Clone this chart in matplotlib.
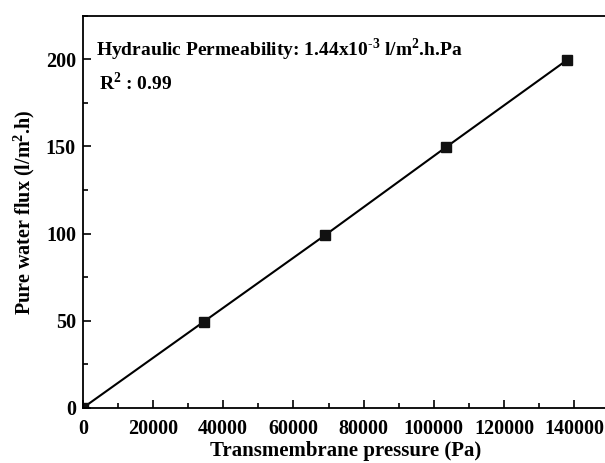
import matplotlib
matplotlib.use("Agg")
import matplotlib.pyplot as plt
from matplotlib.ticker import MultipleLocator

pressure = [0, 34474, 68948, 103421, 137895]
flux = [0, 49.5, 99, 149.5, 199.5]
x_ticks = [0, 20000, 40000, 60000, 80000, 100000, 120000, 140000]
y_ticks = [0, 50, 100, 150, 200]

plt.rcParams['font.family'] = ['Liberation Serif', 'DejaVu Serif']
plt.rcParams['font.weight'] = 'bold'
plt.rcParams['mathtext.fontset'] = 'custom'
plt.rcParams['mathtext.rm'] = 'Liberation Serif:bold'
plt.rcParams['mathtext.bf'] = 'Liberation Serif:bold'

fig = plt.figure(figsize=(6.05, 4.63), dpi=100)
ax = fig.add_axes([0.137, 0.119, 0.87, 0.847])

ax.plot(pressure, flux, color='black', lw=1.5, marker='s', ms=7, mfc='#111111', mec='#111111')

ax.set_xlim(0, 150000)
ax.set_ylim(0, 225)
ax.set_xticks(x_ticks)
ax.set_yticks(y_ticks)
ax.xaxis.set_minor_locator(MultipleLocator(10000))
ax.yaxis.set_minor_locator(MultipleLocator(25))
ax.tick_params(which='both', direction='in', labelsize=14.5, width=1.2)
ax.tick_params(which='major', length=6)
ax.tick_params(which='minor', length=3.5)
ax.tick_params(axis='x', which='major', pad=8)
ax.tick_params(axis='y', which='major', pad=5)
for lab in ax.get_xticklabels() + ax.get_yticklabels():
    lab.set_fontweight('bold')
for s in ax.spines.values():
    s.set_linewidth(1.3)

ax.set_xlabel('Transmembrane pressure (Pa)', fontsize=15, fontweight='bold', labelpad=1.5)
ax.set_ylabel('Pure water flux (l/m$^2$.h)', fontsize=14.5, fontweight='bold', labelpad=6)

ax.text(0.025, 0.913, 'Hydraulic Permeability: 1.44x10$^{\\text{-3}}$ l/m$^2$.h.Pa',
        transform=ax.transAxes, fontsize=14, fontweight='bold', va='center', ha='left')
ax.text(0.03, 0.828, 'R$^2$ : 0.99', transform=ax.transAxes, fontsize=14,
        fontweight='bold', va='center', ha='left')

fig.savefig('out.png', dpi=100)
